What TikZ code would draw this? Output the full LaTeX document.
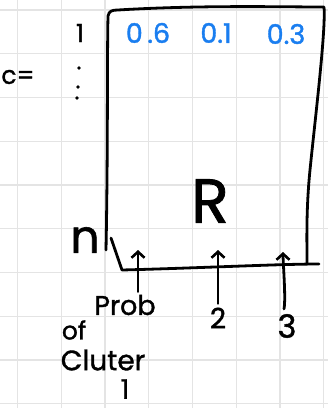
\documentclass[tikz,border=0pt]{standalone}
\usepackage{fontspec}
\setmainfont{Poppins}
\newfontfamily\handfont{Poppins}[FakeBold=1.3]
\usetikzlibrary{arrows.meta}
\definecolor{gridgray}{HTML}{E4E4E4}
\definecolor{inkblue}{HTML}{1A7EF0}
\begin{document}
\begin{tikzpicture}[x=1pt,y=-1pt,
  ink/.style={line width=2.8pt,line cap=round,line join=round},
  uparrow/.style={ink,-{Straight Barb[length=6pt,width=13pt,line width=2.6pt]}},
  hand/.style={inner sep=0pt,font=\handfont\fontsize{#1}{#1}\selectfont},
  hand/.default=22,
  prob/.style={hand=27,text=inkblue}]
\useasboundingbox (0,0) rectangle (328,408);
\fill[white] (0,0) rectangle (328,408);
% squared paper
\foreach \i in {0,...,7}
  \draw[gridgray,line width=1.4pt] ({17.5+43.75*\i},0) -- ({17.5+43.75*\i},408);
\foreach \j in {0,...,9}
  \draw[gridgray,line width=1.4pt] (0,{10+43.75*\j}) -- (328,{10+43.75*\j});

% the matrix R
\coordinate (tl) at (108,16);
\coordinate (tr) at (324,7);
\coordinate (br) at (319,264);
\coordinate (bl) at (122,270);
\draw[ink] (106,250) .. controls (108,150) and (107,60) .. (tl)
  .. controls (109,11) and (112,10) .. (118,10)
  .. controls (200,5) and (280,7) .. (tr)
  .. controls (326,30) and (315,120) .. (310,170)
  .. controls (306,210) and (307,240) .. (307,263);
\draw[ink] (111,238) -- (bl) .. controls (200,268) and (280,264) .. (br);

% row labels
\node[hand=25] (one) at (80,33) {1};
\node[hand=25] (ceq) at (18,77) {c=};
\fill (79,68) circle (1.8pt) (78,87) circle (1.8pt) (77,98) circle (1.8pt);
\node[hand=46] (n) at (85,240) {n};

% first row probabilities
\node[prob] (p1) at (148,33) {0\,.6};
\node[prob] (p2) at (216,33) {0.1};
\node[prob] (p3) at (286,34) {0.3};

\node[hand=62] (R) at (210,201) {R};

% column pointers
\coordinate (a1) at (138,250);
\coordinate (a2) at (218,250);
\coordinate (a3) at (283,252);
\node[hand=27] (c1) at (125,305) {Prob};
\node[hand=25] (of) at (74,330) {of};
\node[hand=28] (cl) at (103,360) {Cluter};
\node[hand=27] (k1) at (125,389) {1};
\node[hand=28] (c2) at (218,318) {2};
\node[hand=32] (c3) at (287,326) {3};
\draw[uparrow] (c1.north -| a1) ++(0,-3) -- (a1);
\draw[uparrow] (c2.north) ++(0,-4) -- (a2);
\draw[uparrow] (c3.north) ++(-3,-5) .. controls +(2,-10) and +(0,10) .. (a3);
\end{tikzpicture}
\end{document}
